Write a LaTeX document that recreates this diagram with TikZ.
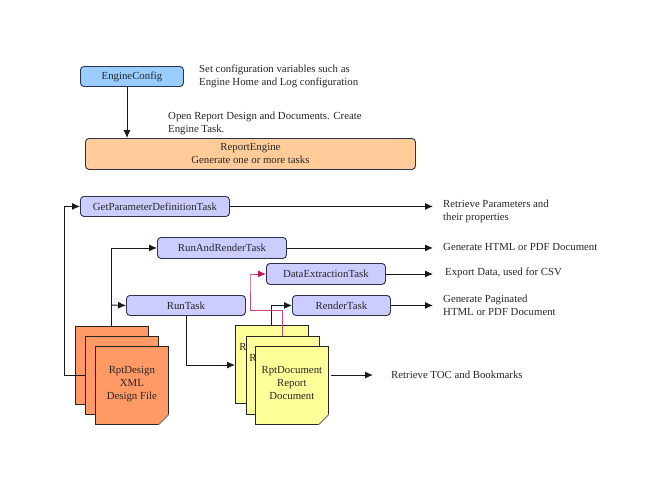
\documentclass[tikz,border=0pt]{standalone}
\usepackage{fontspec}
\setmainfont{Liberation Serif}
\usetikzlibrary{arrows.meta}
\definecolor{boxline}{HTML}{2A3350}
\definecolor{cfgfill}{HTML}{99CCFF}
\definecolor{engfill}{HTML}{FFCC99}
\definecolor{taskfill}{HTML}{CCCCFF}
\definecolor{xmlfill}{HTML}{FF9966}
\definecolor{repfill}{HTML}{FFFF99}
\definecolor{pinkline}{HTML}{C8487A}
\definecolor{pinkhead}{HTML}{C8145A}
\newcommand{\lowpad}{\rule[-5pt]{0pt}{5pt}}
\tikzset{
  basefont/.style={font=\fontsize{10.8}{13}\selectfont,text=black!85},
  roundbox/.style={basefont,draw=boxline,line width=0.9pt,rounded corners=3.5pt,inner sep=0pt,align=center,anchor=north west},
  cfgbox/.style={roundbox,fill=cfgfill},
  engbox/.style={roundbox,fill=engfill},
  taskbox/.style={roundbox,fill=taskfill},
  docbox/.style={basefont,draw=black!85,line width=0.7pt,minimum width=73pt,minimum height=78pt,inner sep=0pt,align=center,anchor=north west},
  xmldoc/.style={docbox,fill=xmlfill},
  repdoc/.style={docbox,fill=repfill},
  note/.style={basefont,inner sep=0pt,align=left,anchor=west},
  conn/.style={draw=black!90,line width=0.9pt,-{Latex[length=8pt,width=7pt]}},
  pinkconn/.style={draw=pinkline,line width=0.9pt,-{Latex[length=8pt,width=7pt,color=pinkhead]}},
  foldline/.style={draw=black!70,line width=0.7pt},
}
\begin{document}
\begin{tikzpicture}[x=1pt,y=-1pt]
\useasboundingbox (0,0) rectangle (650,488);
\fill[white] (0,0) rectangle (650,488);

% top boxes
\node[cfgbox,minimum width=103pt,minimum height=20pt] (cfg) at (80,66) {EngineConfig};
\node[engbox,minimum width=330pt,minimum height=31pt] (eng) at (85,138) {ReportEngine\\Generate one or more tasks};
\node[note] (cfgnote) at (199,76.5) {Set configuration variables such as\\Engine Home and Log configuration};
\node[note] (engnote) at (168,123.5) {Open Report Design and Documents. Create\\Engine Task.};

% task boxes
\node[taskbox,minimum width=149pt,minimum height=20pt] (gp) at (80,196) {GetParameterDefinitionTask};
\node[taskbox,minimum width=129pt,minimum height=21pt] (rr) at (157,237) {RunAndRenderTask};
\node[taskbox,minimum width=119pt,minimum height=20pt] (run) at (126,295) {RunTask};
\node[taskbox,minimum width=119pt,minimum height=21pt] (dx) at (266,263) {DataExtractionTask};
\node[taskbox,minimum width=98pt,minimum height=20pt] (rt) at (292,295) {RenderTask};

% free ends
\coordinate (e1) at (433,206);
\coordinate (e2) at (433,247);
\coordinate (e3) at (433,273);
\coordinate (e4) at (433,305);
\coordinate (s5) at (331,375);
\coordinate (e5) at (373,375);
\coordinate (xtop) at (111,326);
\coordinate (xbranch) at (111,305);
\coordinate (xleft) at (64,375);
\coordinate (ptop) at (282,310);
\coordinate (pleft) at (250,274);
\coordinate (pstart) at (282,336);

% connectors behind the documents
\draw[conn] (cfg.south -| 127,0) -- (eng.north -| 127,0);
\draw[conn] (gp.east) -- (gp.east -| e1);
\draw[conn] (rr.east) -- (rr.east -| e2);
\draw[conn] (dx.east) -- (dx.east -| e3);
\draw[conn] (rt.east) -- (rt.east -| e4);
\draw[conn] (s5) -- (e5);
\draw[conn] (xtop) |- (rr.west);

% documents
\node[xmldoc] (x1) at (75,326) {};
\node[xmldoc] (x2) at (85,336) {};
\node[xmldoc] (x3) at (95,346) {RptDesign\\XML\\Design File\lowpad};
\node[repdoc] (y1) at (235,325) {};
\node[repdoc] (y2) at (246,336) {};
\node[basefont,inner sep=0pt] (yr1) at (243,347) {R};
\node[basefont,inner sep=0pt] (yr2) at (253,358) {R};
\node[repdoc] (y3) at (255,346) {RptDocument\\Report\\Document\lowpad};

% folded corners
\foreach \d in {x3,y3}{
  \fill[white] ([xshift=-10.5pt]\d.south east) -- ([yshift=10.5pt]\d.south east) -- ([xshift=1pt,yshift=-1pt]\d.south east) -- cycle;
  \draw[foldline] ([xshift=-10pt]\d.south east) -- ([yshift=10pt]\d.south east) -- ([xshift=-8pt,yshift=2pt]\d.south east) -- cycle;
}

% connectors between documents and tasks
\draw[conn] (xbranch) -- (run.west);
\draw[conn] (x2.west |- xleft) -| (gp.west -| xleft) -- (gp.west);
\draw[conn] (run.south -| 186,0) |- (y1.west |- 0,365);
\draw[conn] ([xshift=36pt]y1.north west) |- (rt.west);
\draw[pinkconn] (pstart) -- (ptop) -| (pleft) |- (dx.west);

% notes on the right
\node[note] (n1) at (443,211.5) {Retrieve Parameters and\\their properties};
\node[note] (n2) at (443,247) {Generate HTML or PDF Document};
\node[note] (n3) at (445,273) {Export Data, used for CSV};
\node[note] (n4) at (443,305) {Generate Paginated\\HTML or PDF Document};
\node[note] (n5) at (391,375) {Retrieve TOC and Bookmarks};
\end{tikzpicture}
\end{document}
